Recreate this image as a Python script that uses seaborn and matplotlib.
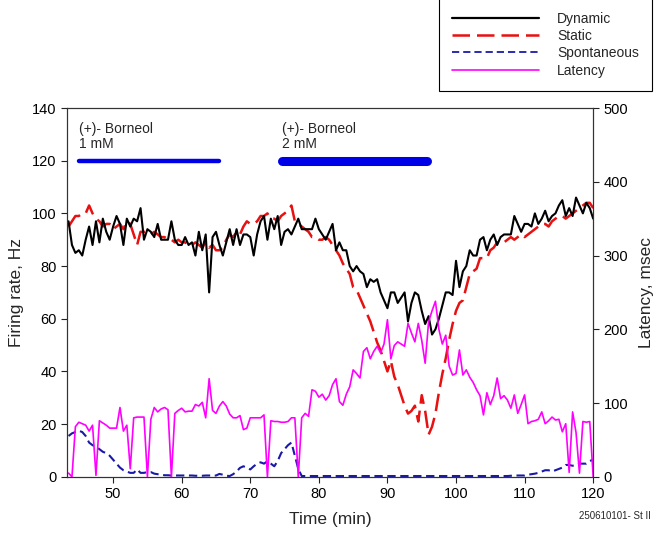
import numpy as np
import pandas as pd
import matplotlib
matplotlib.use("Agg")
import matplotlib.pyplot as plt
import seaborn as sns
from matplotlib.lines import Line2D

# time axis (min), one sample every 0.5 min
time_min = np.arange(43.5, 120.01, 0.5)

dynamic = [97, 88, 85,
           86, 84, 90, 95, 88, 97, 89, 98, 93, 90,
           95, 99, 96, 88, 98, 95, 98, 97, 102, 90,
           94, 93, 91, 96, 90, 90, 90, 97, 90, 88,
           88, 91, 88, 89, 84, 93, 86, 92, 70, 91,
           93, 88, 84, 89, 94, 88, 94, 88, 92, 92,
           91, 84, 92, 97, 99, 90, 98, 94, 99, 88,
           93, 94, 92, 95, 98, 94, 94, 94, 94, 98,
           94, 92, 90, 93, 96, 86, 89, 86, 86, 80,
           78, 80, 78, 77, 72, 75, 74, 75, 70, 67,
           64, 70, 70, 66, 68, 70, 59, 66, 70, 69,
           63, 58, 61, 54, 56, 60, 65, 70, 70, 69,
           82, 72, 78, 80, 86, 84, 84, 90, 91, 86,
           90, 92, 88, 91, 92, 92, 92, 99, 96, 93,
           96, 96, 95, 100, 96, 98, 101, 97, 99, 100,
           103, 105, 99, 102, 99, 106, 103, 100, 104, 102,
           98]

static = [95, 97, 99,
          99, 100, 100, 103, 100, 98, 97, 95, 96, 96,
          94, 95, 96, 94, 97, 96, 92, 88, 93, 93,
          93, 92, 93, 92, 91, 91, 90, 90, 89, 90,
          89, 89, 88, 88, 89, 88, 87, 89, 87, 88,
          86, 86, 87, 90, 92, 91, 93, 92, 95, 97,
          96, 96, 97, 99, 99, 100, 98, 98, 97, 99,
          100, 101, 103, 97, 96, 95, 94, 93, 91, 91,
          90, 90, 91, 90, 88, 86, 84, 81, 79, 77,
          72, 71, 68, 65, 62, 59, 55, 51, 48, 44,
          40, 44, 38, 35, 31, 27, 24, 25, 27, 21,
          31, 25, 16, 19, 24, 32, 39, 45, 52, 58,
          63, 66, 67, 72, 77, 78, 79, 83, 83, 83,
          86, 87, 89, 89, 89, 90, 91, 90, 91, 92,
          91, 92, 93, 94, 95, 96, 96, 95, 97, 98,
          99, 99, 98, 99, 100, 101, 102, 103, 104, 104,
          102]

spontaneous = [15.5, 16.5, 17,
               17.5, 17, 15.5, 13, 12, 11.5, 10.5, 9.5, 9, 8,
               6.5, 5, 3.5, 2.5, 2, 1.5, 1.5, 2.8, 1.5, 1.5,
               1.8, 1.8, 1.2, 1, 0.8, 0.6, 0.6, 0.5, 0.5, 0.5,
               0.5, 0.5, 0.5, 0.5, 0.4, 0.4, 0.4, 0.5, 0.5, 0.5,
               0.5, 1.1, 0.8, 0.4, 0.3, 1.0, 2.0, 3.4, 4.0, 3.5,
               2.8, 4.0, 5.0, 5.5, 5.0, 5.9, 5.0, 4.0, 6.0, 9.0,
               10.5, 12, 13, 8, 3, 0.3, 0.3, 0.3, 0.3, 0.3,
               0.3, 0.3, 0.3, 0.3, 0.3, 0.3, 0.3, 0.3, 0.3, 0.3,
               0.3, 0.3, 0.3, 0.3, 0.3, 0.3, 0.3, 0.3, 0.3, 0.3,
               0.3, 0.3, 0.3, 0.3, 0.3, 0.3, 0.3, 0.3, 0.3, 0.3,
               0.3, 0.3, 0.3, 0.3, 0.3, 0.3, 0.3, 0.3, 0.3, 0.3,
               0.3, 0.3, 0.3, 0.3, 0.3, 0.3, 0.3, 0.3, 0.3, 0.3,
               0.3, 0.3, 0.3, 0.3, 0.3, 0.3, 0.4, 0.5, 0.5, 0.5,
               0.5, 0.8, 1.0, 1.2, 1.5, 2.0, 2.5, 2.5, 2.0, 2.5,
               3.0, 3.5, 4.5, 4.5, 4.2, 4.5, 5.0, 5.0, 5.0, 6.0,
               6.5]

latency = [5, 0, 68,
           74, 72, 70, 62, 70, 2, 76, 73, 70, 66,
           66, 66, 94, 62, 70, 11, 80, 81, 81, 81,
           0, 78, 94, 88, 92, 94, 91, 0, 86, 90,
           93, 88, 89, 89, 98, 96, 101, 80, 133, 90,
           86, 96, 102, 96, 85, 80, 80, 83, 64, 66,
           80, 80, 80, 80, 84, 0, 76, 75, 75, 74,
           74, 75, 80, 80, 0, 80, 86, 82, 118, 116,
           108, 112, 104, 110, 125, 133, 102, 97, 112, 122,
           145, 140, 134, 170, 175, 160, 170, 177, 168, 180,
           213, 160, 178, 183, 180, 177, 208, 195, 183, 208,
           185, 154, 210, 225, 238, 200, 180, 192, 150, 138,
           140, 172, 138, 145, 135, 128, 118, 110, 84, 114,
           98, 110, 134, 106, 110, 104, 93, 111, 86, 98,
           111, 72, 75, 76, 78, 88, 72, 76, 81, 77,
           78, 61, 72, 6, 88, 60, 5, 75, 74, 75,
           0]

# drug application periods (min) and labels
drug_start = [45.0, 74.6]
drug_end = [65.5, 95.8]
drug_labels = ["(+)- Borneol\n1 mM", "(+)- Borneol\n2 mM"]
drug_level = 120

df = pd.DataFrame({"time": time_min, "Dynamic": dynamic, "Static": static,
                   "Spontaneous": spontaneous, "Latency": latency})

sns.set_style("ticks")
plt.rcParams["font.family"] = ["Liberation Sans", "DejaVu Sans"]

fig = plt.figure(figsize=(6.65, 5.4), dpi=100)
ax = fig.add_subplot(111)
fig.subplots_adjust(left=0.101, right=0.892, bottom=0.117, top=0.8)
ax2 = ax.twinx()

sns.lineplot(data=df, x="time", y="Latency", ax=ax2, color="#ff00ff",
             lw=1.2, estimator=None)
sns.lineplot(data=df, x="time", y="Spontaneous", ax=ax, color="#1a1aa8",
             lw=1.5, linestyle=(0, (4, 2.2)), estimator=None)
sns.lineplot(data=df, x="time", y="Static", ax=ax, color="#e81010",
             lw=1.8, linestyle=(0, (7, 2.8)), estimator=None)
sns.lineplot(data=df, x="time", y="Dynamic", ax=ax, color="black",
             lw=1.5, estimator=None)

lw_bar = [3.2, 6.5]
for s, e, lab, w in zip(drug_start, drug_end, drug_labels, lw_bar):
    ax.plot([s, e], [drug_level, drug_level], color="#0000e8", lw=w,
            solid_capstyle="round")
    ax.text(s, drug_level + 3.5, lab, fontsize=10, ha="left", va="bottom",
            linespacing=1.1)

ax.set_xlim(43.3, 120)
ax.set_ylim(0, 140)
ax2.set_ylim(0, 500)
ax.set_xticks([50, 60, 70, 80, 90, 100, 110, 120])
ax.set_yticks(range(0, 141, 20))
ax2.set_yticks(range(0, 501, 100))
ax.set_xlabel("Time (min)", fontsize=12.5, labelpad=8)
ax.set_ylabel("Firing rate, Hz", fontsize=12.5, labelpad=6)
ax2.set_ylabel("Latency, msec", fontsize=12.5, labelpad=8)

for a in (ax, ax2):
    a.tick_params(direction="out", length=4, width=0.8, labelsize=10.5,
                  colors="#222222", labelcolor="black")
    for sp in a.spines.values():
        sp.set_visible(True)
        sp.set_linewidth(0.8)
        sp.set_color("#333333")

handles = [Line2D([], [], color="black", lw=1.6),
           Line2D([], [], color="#e81010", lw=1.8, linestyle=(0, (7, 2.8))),
           Line2D([], [], color="#1a1aa8", lw=1.3, linestyle=(0, (4, 2.2))),
           Line2D([], [], color="#ff00ff", lw=1.2)]
leg = fig.legend(handles, ["Dynamic", "Static", "Spontaneous", "Latency"],
                 loc="upper right", bbox_to_anchor=(0.981, 1.003),
                 borderaxespad=0, fontsize=10, handlelength=6.3,
                 handletextpad=1.3, labelspacing=0.24, borderpad=0.95,
                 fancybox=False, framealpha=1, edgecolor="black")
leg.get_frame().set_linewidth(0.8)

fig.text(0.978, 0.038, "250610101- St II", fontsize=7, ha="right")

fig.savefig("out.png", dpi=100)
